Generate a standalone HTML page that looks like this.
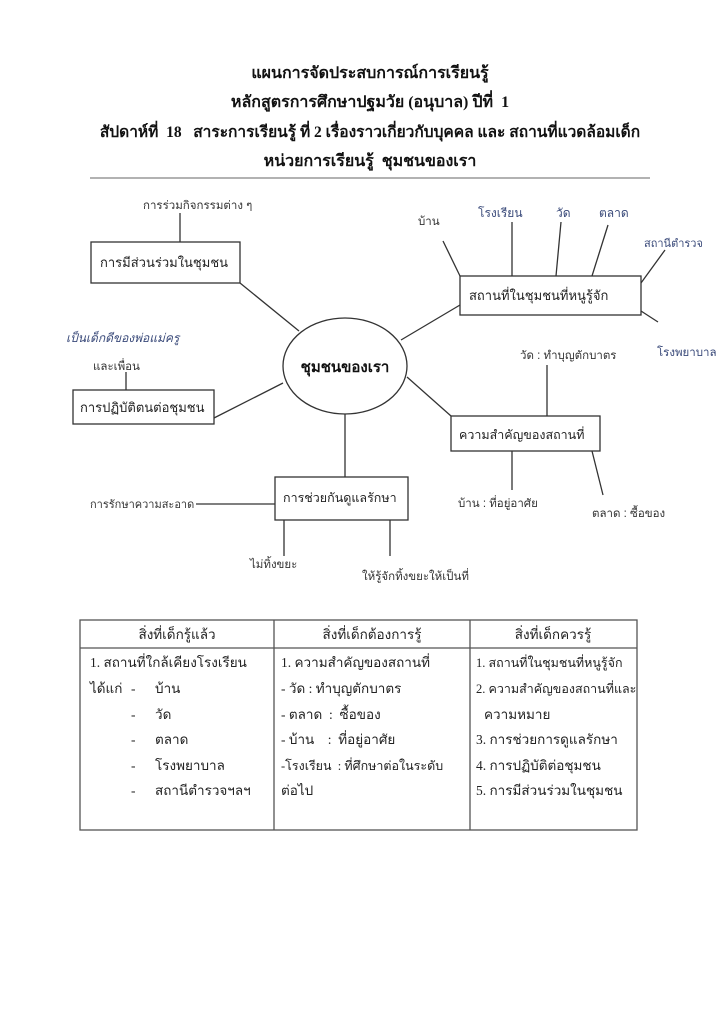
<!DOCTYPE html>
<html><head><meta charset="utf-8">
<style>
html,body{margin:0;padding:0;background:#fff;}
body{width:721px;height:1024px;position:relative;overflow:hidden;}
svg{position:absolute;left:0;top:0;}
text{white-space:pre;}
.t{font-family:"Liberation Serif","Noto Serif CJK SC",serif;font-weight:bold;font-size:16px;fill:#111;}
.s{font-family:"Liberation Sans","Noto Sans CJK SC",sans-serif;font-size:11.5px;fill:#333;}
.b{font-family:"Liberation Sans","Noto Sans CJK SC",sans-serif;font-size:13px;fill:#222;}
.bl{font-family:"Liberation Serif","Noto Serif CJK SC",serif;font-size:12px;fill:#3a4a7a;}
.tb{font-family:"Liberation Serif","Noto Serif CJK SC",serif;font-size:13.5px;fill:#222;}
line,rect,ellipse{stroke:#333;stroke-width:1.3;fill:none;}
</style></head><body>
<svg width="721" height="1024" viewBox="0 0 721 1024">
<text class="t" x="370" y="78" text-anchor="middle">แผนการจัดประสบการณ์การเรียนรู้</text>
<text class="t" x="370" y="107" text-anchor="middle">หลักสูตรการศึกษาปฐมวัย (อนุบาล) ปีที่  1</text>
<text class="t" x="370" y="137" text-anchor="middle" style="font-size:15.5px">สัปดาห์ที่  18   สาระการเรียนรู้ ที่ 2 เรื่องราวเกี่ยวกับบุคคล และ สถานที่แวดล้อมเด็ก</text>
<text class="t" x="370" y="166" text-anchor="middle">หน่วยการเรียนรู้  ชุมชนของเรา</text>
<line x1="90" y1="178" x2="650" y2="178" style="stroke:#999;stroke-width:1.5"/>

<ellipse cx="345" cy="366" rx="62" ry="48"/>
<text class="t" x="345" y="372" text-anchor="middle" style="font-family:'Liberation Sans','Noto Sans CJK SC',sans-serif;font-size:15px">ชุมชนของเรา</text>

<rect x="91" y="242" width="149" height="41"/>
<text class="b" x="100" y="267">การมีส่วนร่วมในชุมชน</text>
<line x1="180" y1="213" x2="180" y2="242"/>
<text class="s" x="143" y="209">การร่วมกิจกรรมต่าง ๆ</text>
<line x1="240" y1="283" x2="299" y2="331"/>

<rect x="73" y="390" width="141" height="34"/>
<text class="b" x="80" y="412">การปฏิบัติตนต่อชุมชน</text>
<line x1="126" y1="372" x2="126" y2="390"/>
<text class="s" x="93" y="370">และเพื่อน</text>
<text class="bl" x="66" y="342" style="font-style:italic">เป็นเด็กดีของพ่อแม่ครู</text>
<line x1="214" y1="418" x2="283" y2="383"/>

<rect x="460" y="276" width="181" height="39"/>
<text class="b" x="469" y="300">สถานที่ในชุมชนที่หนูรู้จัก</text>
<line x1="401" y1="340" x2="460" y2="305"/>
<line x1="443" y1="241" x2="460" y2="276"/>
<line x1="512" y1="222" x2="512" y2="276"/>
<line x1="561" y1="222" x2="556" y2="276"/>
<line x1="608" y1="225" x2="592" y2="276"/>
<line x1="665" y1="250" x2="641" y2="283"/>
<line x1="641" y1="311" x2="658" y2="322"/>
<text class="s" x="418" y="225">บ้าน</text>
<text class="bl" x="478" y="217">โรงเรียน</text>
<text class="bl" x="556" y="217">วัด</text>
<text class="bl" x="599" y="217">ตลาด</text>
<text class="bl" x="644" y="247" style="font-size:11px">สถานีตำรวจ</text>
<text class="bl" x="657" y="356" style="font-size:11.5px">โรงพยาบาล</text>

<rect x="451" y="416" width="149" height="35"/>
<text class="b" x="459" y="439" style="font-size:12.5px">ความสำคัญของสถานที่</text>
<line x1="407" y1="377" x2="451" y2="416"/>
<line x1="547" y1="365" x2="547" y2="416"/>
<text class="s" x="520" y="359">วัด : ทำบุญตักบาตร</text>
<line x1="512" y1="451" x2="512" y2="490"/>
<text class="s" x="458" y="507">บ้าน : ที่อยู่อาศัย</text>
<line x1="592" y1="451" x2="603" y2="495"/>
<text class="s" x="592" y="517">ตลาด : ซื้อของ</text>

<line x1="345" y1="414" x2="345" y2="477"/>
<rect x="275" y="477" width="133" height="43"/>
<text class="b" x="283" y="502" style="font-size:12.5px">การช่วยกันดูแลรักษา</text>
<line x1="196" y1="504" x2="275" y2="504"/>
<text class="s" x="90" y="508" style="font-size:11px">การรักษาความสะอาด</text>
<line x1="284" y1="520" x2="284" y2="556"/>
<text class="s" x="250" y="568">ไม่ทิ้งขยะ</text>
<line x1="390" y1="520" x2="390" y2="556"/>
<text class="s" x="362" y="580">ให้รู้จักทิ้งขยะให้เป็นที่</text>

<rect x="80" y="620" width="557" height="210" style="stroke:#555"/>
<line x1="80" y1="648" x2="637" y2="648" style="stroke:#555"/>
<line x1="274" y1="620" x2="274" y2="830" style="stroke:#555"/>
<line x1="470" y1="620" x2="470" y2="830" style="stroke:#555"/>
<text class="tb" x="177" y="639" text-anchor="middle">สิ่งที่เด็กรู้แล้ว</text>
<text class="tb" x="372" y="639" text-anchor="middle">สิ่งที่เด็กต้องการรู้</text>
<text class="tb" x="553" y="639" text-anchor="middle">สิ่งที่เด็กควรรู้</text>

<text class="tb" x="90" y="667">1. สถานที่ใกล้เคียงโรงเรียน</text>
<text class="tb" x="90" y="693">ได้แก่</text>
<text class="tb" x="131" y="693">-</text><text class="tb" x="155" y="693">บ้าน</text>
<text class="tb" x="131" y="719">-</text><text class="tb" x="155" y="719">วัด</text>
<text class="tb" x="131" y="744">-</text><text class="tb" x="155" y="744">ตลาด</text>
<text class="tb" x="131" y="770">-</text><text class="tb" x="155" y="770">โรงพยาบาล</text>
<text class="tb" x="131" y="795">-</text><text class="tb" x="155" y="795">สถานีตำรวจฯลฯ</text>

<text class="tb" x="281" y="667">1. ความสำคัญของสถานที่</text>
<text class="tb" x="281" y="693">- วัด : ทำบุญตักบาตร</text>
<text class="tb" x="281" y="719">- ตลาด  :  ซื้อของ</text>
<text class="tb" x="281" y="744">- บ้าน    :  ที่อยู่อาศัย</text>
<text class="tb" x="281" y="770" style="font-size:12.5px">-โรงเรียน  : ที่ศึกษาต่อในระดับ</text>
<text class="tb" x="281" y="795">ต่อไป</text>

<text class="tb" x="476" y="667" style="font-size:12.5px">1. สถานที่ในชุมชนที่หนูรู้จัก</text>
<text class="tb" x="476" y="693" style="font-size:12.5px">2. ความสำคัญของสถานที่และ</text>
<text class="tb" x="484" y="719">ความหมาย</text>
<text class="tb" x="476" y="744">3. การช่วยการดูแลรักษา</text>
<text class="tb" x="476" y="770">4. การปฏิบัติต่อชุมชน</text>
<text class="tb" x="476" y="795">5. การมีส่วนร่วมในชุมชน</text>
</svg>
</body></html>
